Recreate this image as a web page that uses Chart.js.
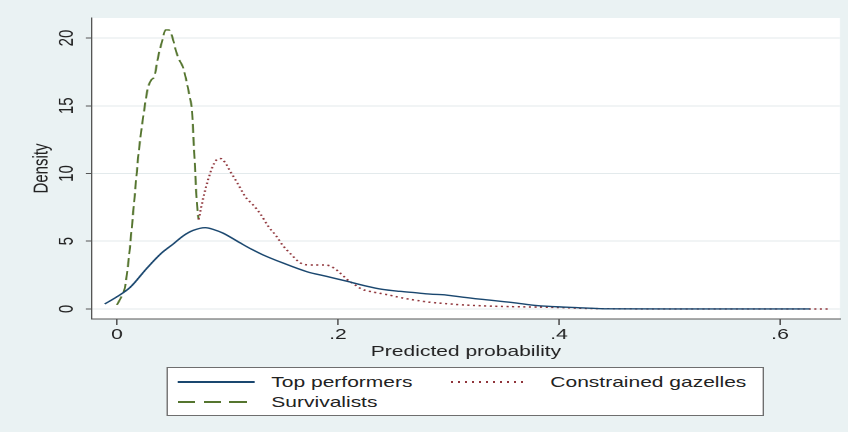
<!DOCTYPE html>
<html>
<head>
<meta charset="utf-8">
<title>Predicted probability density</title>
<script src="https://cdn.jsdelivr.net/npm/chart.js@4.4.1/dist/chart.umd.min.js"></script>
<style>
    html, body { margin: 0; padding: 0; background: #eaf2f3; overflow: hidden; }
    /* the reference is stretched sideways, so the whole figure is drawn narrow and widened */
    #figure {
        position: relative;
        width: 606px;
        height: 432px;
        transform: scaleX(1.3993);
        transform-origin: 0 0;
        font-family: "Liberation Sans", Arial, sans-serif;
        font-size: 15px;
        color: #222;
    }
    #chart { position: absolute; left: 0; top: 0; }
    #legend {
        position: absolute;
        left: 118.6px;
        top: 367px;
        width: 425px;
        height: 47px;
        background: #fff;
        border: 1px solid #6e6e6e;
    }
    .key { position: absolute; height: 1.5px; }
    .label { position: absolute; line-height: 18px; white-space: nowrap; }
</style>
</head>
<body>
<div id="figure">
    <canvas id="chart" width="606" height="432"></canvas>
    <div id="legend"></div>
</div>
<script>
// --- Data ---
const xTicks = [0, 0.2, 0.4, 0.6];
const yTicks = [0, 5, 10, 15, 20];

const topX = [-0.011, 0.000, 0.012, 0.027, 0.040, 0.051, 0.060, 0.069, 0.080, 0.088, 0.096, 0.111, 0.122, 0.132, 0.150, 0.172, 0.190, 0.208, 0.225, 0.240, 0.256, 0.270, 0.283, 0.298, 0.313, 0.329, 0.358, 0.380, 0.407, 0.425, 0.443, 0.500, 0.560, 0.627];
const topY = [0.37, 0.9, 1.6, 3.0, 4.1, 4.8, 5.4, 5.8, 6.0, 5.85, 5.6, 4.9, 4.4, 4.0, 3.4, 2.75, 2.4, 2.05, 1.7, 1.45, 1.3, 1.2, 1.1, 1.03, 0.87, 0.72, 0.47, 0.25, 0.13, 0.07, 0.01, 0, 0, 0];

const gazX = [0.074, 0.076, 0.079, 0.082, 0.086, 0.090, 0.094, 0.098, 0.103, 0.109, 0.116, 0.123, 0.130, 0.137, 0.144, 0.150, 0.158, 0.166, 0.175, 0.185, 0.192, 0.200, 0.208, 0.215, 0.222, 0.232, 0.245, 0.256, 0.270, 0.283, 0.300, 0.313, 0.335, 0.358, 0.380, 0.404, 0.420, 0.450, 0.500, 0.550, 0.600, 0.645];
const gazY = [6.6, 7.4, 8.5, 9.4, 10.4, 11.0, 11.1, 10.8, 10.1, 9.3, 8.3, 7.7, 7.0, 6.1, 5.4, 4.7, 4.0, 3.4, 3.25, 3.25, 3.2, 2.8, 2.2, 1.8, 1.45, 1.25, 1.05, 0.85, 0.65, 0.5, 0.38, 0.3, 0.22, 0.17, 0.14, 0.1, 0.05, 0.01, 0, 0, 0, 0];

const survX = [0.000, 0.004, 0.007, 0.010, 0.013, 0.016, 0.019, 0.021, 0.024, 0.028, 0.031, 0.034, 0.037, 0.041, 0.044, 0.047, 0.050, 0.054, 0.057, 0.060, 0.064, 0.066, 0.068, 0.069, 0.070, 0.071, 0.072, 0.073, 0.074];
const survY = [0.3, 0.9, 1.5, 3.2, 5.6, 8.3, 11.0, 12.5, 14.3, 16.3, 16.9, 17.2, 18.5, 19.8, 20.6, 20.6, 20.1, 18.9, 18.3, 17.8, 16.4, 15.6, 14.6, 13.0, 11.5, 9.8, 8.3, 7.2, 6.6];

const seriesNames = ['Top performers', 'Constrained gazelles', 'Survivalists'];

function toPoints(xs, ys) {
    return xs.map((x, i) => ({ x: x, y: ys[i] }));
}

function probLabel(v) {
    if (v === 0) return '0';
    return String(+v.toFixed(1)).replace(/^0/, '');
}

const FONT = { family: '"Liberation Sans", Arial, sans-serif', size: 15 };

// white plot region on the bluish-gray page
const plotBackground = {
    id: 'plotBackground',
    beforeDraw(chart) {
        const { ctx, chartArea } = chart;
        ctx.save();
        ctx.fillStyle = '#ffffff';
        ctx.fillRect(chartArea.left, chartArea.top, chartArea.right - chartArea.left, chartArea.bottom - chartArea.top);
        ctx.restore();
    }
};

const ctx = document.getElementById('chart').getContext('2d');
new Chart(ctx, {
    type: 'scatter',
    data: {
        datasets: [
            {
                label: seriesNames[0],
                data: toPoints(topX, topY),
                showLine: true,
                borderColor: '#1a476f',
                borderWidth: 1.4,
                pointRadius: 0,
                cubicInterpolationMode: 'monotone'
            },
            {
                label: seriesNames[1],
                data: toPoints(gazX, gazY),
                showLine: true,
                borderColor: '#90353b',
                borderWidth: 1.5,
                borderDash: [1.5, 2.5],
                pointRadius: 0,
                cubicInterpolationMode: 'monotone'
            },
            {
                label: seriesNames[2],
                data: toPoints(survX, survY),
                showLine: true,
                borderColor: '#55752f',
                borderWidth: 1.4,
                borderDash: [9, 4],
                pointRadius: 0,
                cubicInterpolationMode: 'monotone'
            }
        ]
    },
    options: {
        responsive: false,
        animation: false,
        devicePixelRatio: 2,
        layout: { padding: { left: 0, right: 5.7, top: 18, bottom: 68 } },
        plugins: {
            legend: { display: false },
            tooltip: { enabled: false }
        },
        scales: {
            x: {
                type: 'linear',
                min: -0.0226,
                max: 0.6543,
                afterFit: (scale) => { scale.height = 45; },
                afterBuildTicks: (scale) => { scale.ticks = xTicks.map(v => ({ value: v })); },
                grid: { drawOnChartArea: false, drawTicks: true, tickLength: 6, tickColor: '#555' },
                border: { display: true, color: '#555', width: 1 },
                ticks: {
                    color: '#222',
                    font: FONT,
                    padding: 1,
                    maxRotation: 0,
                    autoSkip: false,
                    callback: (v) => probLabel(v)
                },
                title: {
                    display: true,
                    text: 'Predicted probability',
                    color: '#222',
                    font: FONT,
                    padding: { top: 0, bottom: 3 }
                }
            },
            y: {
                type: 'linear',
                min: -0.74,
                max: 21.48,
                afterFit: (scale) => { scale.width = 65.7; },
                afterBuildTicks: (scale) => { scale.ticks = yTicks.map(v => ({ value: v })); },
                grid: { color: '#e3eaec', lineWidth: 1, drawTicks: true, tickLength: 4.3, tickColor: '#555' },
                border: { display: true, color: '#555', width: 1 },
                ticks: {
                    color: '#222',
                    font: FONT,
                    padding: 5,
                    minRotation: 90,
                    maxRotation: 90,
                    crossAlign: 'center',
                    autoSkip: false
                },
                title: {
                    display: true,
                    text: 'Density',
                    color: '#222',
                    font: FONT,
                    padding: { top: 21, bottom: 0 }
                }
            }
        }
    },
    plugins: [plotBackground]
});

// --- Legend box (Stata style, two columns) ---
const legendEl = document.getElementById('legend');
const legendItems = [
    { name: seriesNames[0], keyLeft: 7, textLeft: 74.3, top: 14, style: 'background:#1a476f;' },
    { name: seriesNames[1], keyLeft: 202, textLeft: 273.7, top: 14, style: 'background:repeating-linear-gradient(to right,#90353b 0 1.5px,transparent 1.5px 5px);' },
    { name: seriesNames[2], keyLeft: 7, textLeft: 74.3, top: 34, style: 'background:repeating-linear-gradient(to right,#55752f 0 12.5px,transparent 12.5px 18.5px);' }
];
legendItems.forEach(item => {
    const key = document.createElement('div');
    key.className = 'key';
    key.style.cssText = `left:${item.keyLeft}px;top:${item.top - 0.75}px;width:55px;${item.style}`;
    legendEl.appendChild(key);

    const label = document.createElement('div');
    label.className = 'label';
    label.style.left = item.textLeft + 'px';
    label.style.top = (item.top - 9) + 'px';
    label.textContent = item.name;
    legendEl.appendChild(label);
});
</script>
</body>
</html>
